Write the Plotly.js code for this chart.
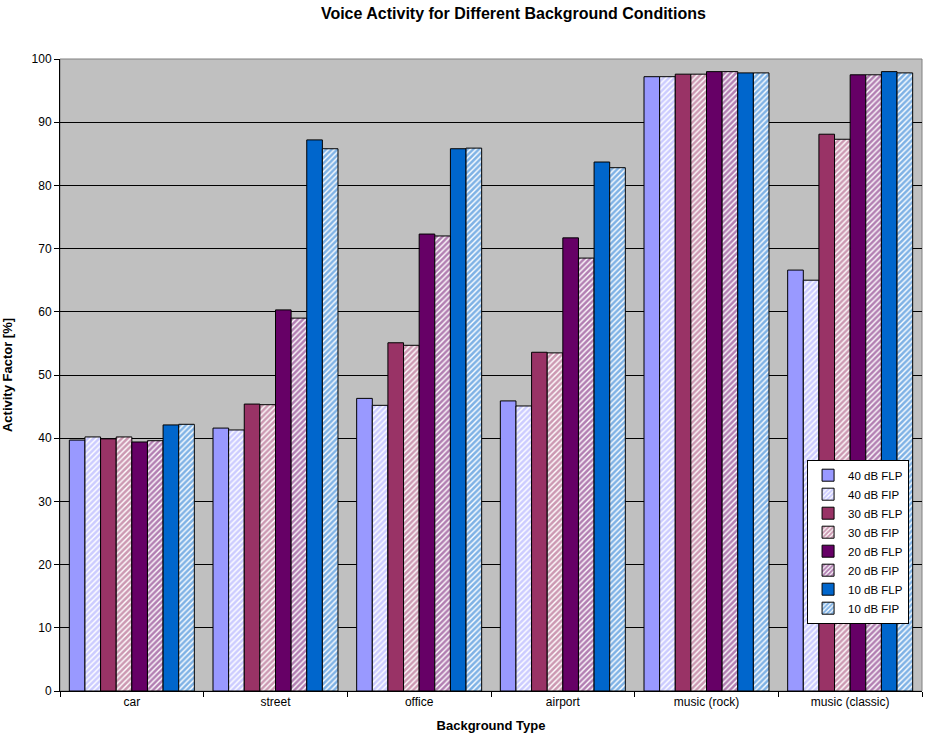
<!DOCTYPE html>
<html>
<head>
<meta charset="utf-8">
<script src="https://cdn.plot.ly/plotly-3.0.1.min.js"></script>
<style>html,body{margin:0;padding:0;background:#fff;}#chart{width:925px;height:745px;}</style>
</head>
<body>
<div id="chart"></div>
<script>
const categories = ["car", "street", "office", "airport", "music (rock)", "music (classic)"];
const seriesNames = ["40 dB FLP", "40 dB FIP", "30 dB FLP", "30 dB FIP", "20 dB FLP", "20 dB FIP", "10 dB FLP", "10 dB FIP"];
const flp40 = [39.7, 41.6, 46.3, 45.9, 97.2, 66.6];
const fip40 = [40.2, 41.3, 45.2, 45.1, 97.2, 65.0];
const flp30 = [39.9, 45.4, 55.1, 53.6, 97.6, 88.1];
const fip30 = [40.2, 45.3, 54.7, 53.5, 97.6, 87.3];
const flp20 = [39.4, 60.3, 72.3, 71.7, 98.0, 97.5];
const fip20 = [39.6, 59.0, 72.0, 68.5, 98.0, 97.5];
const flp10 = [42.1, 87.2, 85.8, 83.7, 97.8, 98.0];
const fip10 = [42.2, 85.8, 85.9, 82.8, 97.8, 97.8];
const seriesValues = [flp40, fip40, flp30, fip30, flp20, fip20, flp10, fip10];
const colors = ["#9999FF", "#9999FF", "#993366", "#993366", "#660066", "#660066", "#0066CC", "#0066CC"];

const traces = seriesNames.map((name, i) => {
  const isFIP = i % 2 === 1;
  const marker = {color: isFIP ? "#FFFFFF" : colors[i], line: {color: "#000000", width: 1}};
  if (isFIP) {
    marker.pattern = {shape: "/", fgcolor: colors[i], bgcolor: "#FFFFFF", size: 4, solidity: 0.65, fillmode: "overlay"};
  }
  return {type: "bar", name: name, x: categories, y: seriesValues[i], marker: marker};
});

const layout = {
  width: 925, height: 745,
  margin: {l: 60, r: 3, t: 59, b: 54, autoexpand: false},
  paper_bgcolor: "#FFFFFF",
  plot_bgcolor: "#C0C0C0",
  font: {family: "Liberation Sans, Arial, sans-serif", size: 12, color: "#000"},
  title: {text: "<b>Voice Activity for Different Background Conditions</b>", font: {size: 16}, x: 0.555, xanchor: "center", y: 0.99, yanchor: "top"},
  barmode: "group",
  bargap: 0.13,
  bargroupgap: 0,
  xaxis: {
    title: {text: "<b>Background Type</b>", font: {size: 13}, standoff: 12},
    showline: true, linecolor: "#000", linewidth: 1,
    ticks: "outside", tickson: "boundaries", ticklen: 5, tickcolor: "#000",
    showgrid: false, tickfont: {size: 12}, automargin: false
  },
  yaxis: {
    title: {text: "<b>Activity Factor [%]</b>", font: {size: 13}, standoff: 16},
    range: [0, 100], dtick: 10, tick0: 0,
    showline: true, linecolor: "#000", linewidth: 1,
    ticks: "outside", ticklen: 5, tickcolor: "#000",
    showgrid: true, gridcolor: "#000", gridwidth: 1,
    zeroline: false, tickfont: {size: 12}, automargin: false
  },
  legend: {
    x: 0.985, y: 0.366, xanchor: "right", yanchor: "top",
    bgcolor: "#FFFFFF", bordercolor: "#000", borderwidth: 1,
    font: {size: 11.5}, traceorder: "normal", tracegroupgap: 0, itemwidth: 30
  },
  shapes: [{type: "rect", xref: "paper", yref: "paper", x0: 0, x1: 1, y0: 0, y1: 1, line: {color: "#808080", width: 1}, layer: "below"}],
  showlegend: true
};

Plotly.newPlot("chart", traces, layout, {displayModeBar: false, staticPlot: true});
</script>
</body>
</html>
